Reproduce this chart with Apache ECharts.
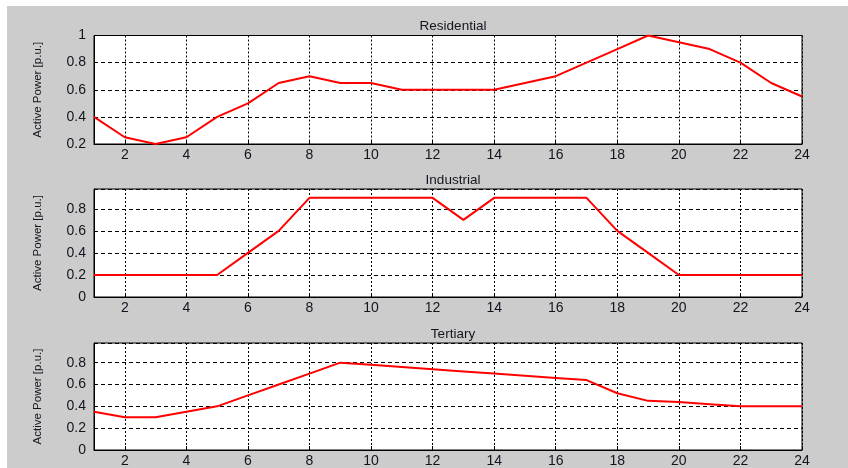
<!DOCTYPE html>
<html><head><meta charset="utf-8">
<script src="https://cdn.jsdelivr.net/npm/echarts@6/dist/echarts.min.js"></script>
<style>html,body{margin:0;padding:0;background:#fff}#c{width:848px;height:468px}</style>
</head><body><div id="c"></div>
<script>
const hours = ['1','2','3','4','5','6','7','8','9','10','11','12','13','14','15','16','17','18','19','20','21','22','23','24'];
const residential = [0.4,0.25,0.2,0.25,0.4,0.5,0.65,0.7,0.65,0.65,0.6,0.6,0.6,0.6,0.65,0.7,0.8,0.9,1.0,0.95,0.9,0.8,0.65,0.55];
const industrial = [0.2,0.2,0.2,0.2,0.2,0.4,0.6,0.9,0.9,0.9,0.9,0.9,0.7,0.9,0.9,0.9,0.9,0.6,0.4,0.2,0.2,0.2,0.2,0.2];
const tertiary = [0.35,0.3,0.3,0.35,0.4,0.5,0.6,0.7,0.8,0.78,0.76,0.74,0.72,0.7,0.68,0.66,0.64,0.52,0.45,0.44,0.42,0.4,0.4,0.4];
const titles = ['Residential','Industrial','Tertiary'];
const yLabel = 'Active Power [p.u.]';
const yRanges = [[0.2,1],[0,0.98],[0,0.98]];

const grids = [{top:35.5,height:108.5},{top:189,height:108},{top:343,height:108}];
const series = [residential, industrial, tertiary];
const evenIdx = (i, v) => (Number(v) % 2 === 0);
const txt = {color:'#14141f', fontFamily:'Liberation Sans, Arial, sans-serif'};

const option = {
  animation:false,
  backgroundColor:'#fff',
  graphic:[{type:'rect', shape:{x:7,y:6,width:841,height:462}, style:{fill:'#cccccc'}, z:-10, silent:true}],
  title: titles.map((t,i)=>({text:t, left:448, textAlign:'center', top:grids[i].top-21,
    textStyle:Object.assign({fontSize:13.5, fontWeight:'normal'}, txt)})),
  grid: grids.map(g=>({left:94, right:46, top:g.top, height:g.height, show:true,
    backgroundColor:'#fff', borderColor:'#000', borderWidth:1})),
  xAxis: grids.map((g,i)=>({type:'category', gridIndex:i, data:hours, boundaryGap:false,
    axisLine:{lineStyle:{color:'#000'}},
    axisTick:{inside:true, length:4, interval:evenIdx, lineStyle:{color:'#000'}},
    axisLabel:Object.assign({interval:evenIdx, fontSize:14, margin:4}, txt),
    splitLine:{show:true, interval:evenIdx, lineStyle:{color:'#000', type:[2,2], width:1}}})),
  yAxis: grids.map((g,i)=>({type:'value', gridIndex:i, min:yRanges[i][0], max:yRanges[i][1], interval:0.2,
    name:yLabel, nameLocation:'middle', nameGap:50, nameRotate:90,
    nameTextStyle:{fontSize:11.5, color:'#14141f', fontFamily:'Liberation Sans Narrow, Arial Narrow, Liberation Sans, sans-serif'},
    axisLine:{show:true, lineStyle:{color:'#000'}},
    axisTick:{show:true, inside:true, length:4, lineStyle:{color:'#000'}},
    axisLabel:Object.assign({fontSize:14, margin:8, showMaxLabel: i===0,
      formatter:v=>String(Math.round(v*10)/10)}, txt),
    splitLine:{show:true, lineStyle:{color:'#000', type:[4,3], width:1}}})),
  series: series.map((d,i)=>({type:'line', xAxisIndex:i, yAxisIndex:i, data:d, symbol:'none',
    lineStyle:{color:'#ff0000', width:2}, z:5}))
};
echarts.init(document.getElementById('c'), null, {renderer:'canvas'}).setOption(option);
</script></body></html>
